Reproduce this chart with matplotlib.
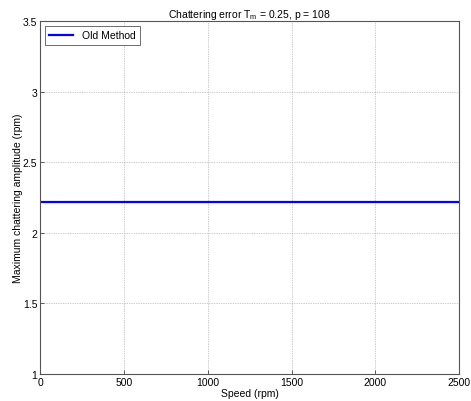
import numpy as np
import matplotlib
matplotlib.use("Agg")
from matplotlib import pyplot as plt

plt.rcParams['font.family'] = ['Liberation Sans', 'DejaVu Sans']
plt.rcParams['font.size'] = 7.5

# data
speed = [0, 2500]
old_method = [2.22, 2.22]
xticks = [0, 500, 1000, 1500, 2000, 2500]
yticks = [1, 1.5, 2, 2.5, 3, 3.5]
ytick_labels = ['1', '1.5', '2', '2.5', '3', '3.5']

fig = plt.figure(figsize=(4.71, 4.02), dpi=100)
ax = fig.add_axes([0.085, 0.067, 0.89, 0.878])

ax.plot(speed, old_method, color='#0000ff', linewidth=1.6, label='Old Method')

ax.set_xlim(0, 2500)
ax.set_ylim(1, 3.5)
ax.set_xticks(xticks)
ax.set_yticks(yticks)
ax.set_yticklabels(ytick_labels)
ax.grid(True, linestyle=(0, (1, 1.5)), color='#999999', linewidth=0.5)
ax.tick_params(direction='in', length=3, width=0.6, colors='#444444', labelcolor='black', pad=2)
for s in ax.spines.values():
    s.set_color('#555555')
    s.set_linewidth(0.8)

ax.set_xlabel('Speed (rpm)', labelpad=1)
ax.set_ylabel('Maximum chattering amplitude (rpm)', labelpad=0)
ax.set_title('Chattering error T$_\\mathregular{m}$ = 0.25, p = 108', fontsize=7.5, pad=3)

leg = ax.legend(loc='upper left', fancybox=False, framealpha=1, edgecolor='#555555',
                handlelength=2.3, borderaxespad=0.5)
leg.get_frame().set_linewidth(0.6)

plt.savefig('out.png', dpi=100)
